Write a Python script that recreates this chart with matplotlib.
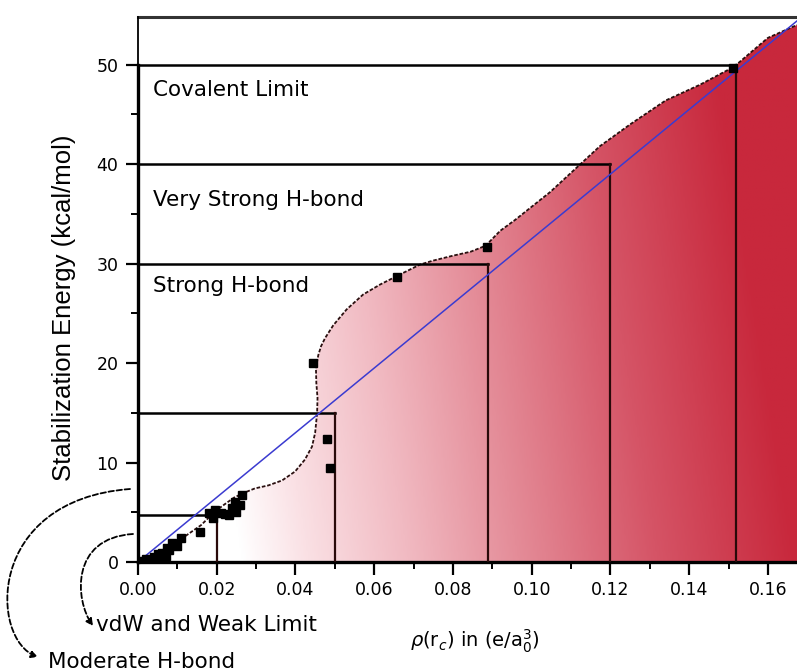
import matplotlib
matplotlib.use("Agg")
import matplotlib.pyplot as plt
import numpy as np
from matplotlib.patches import Polygon, FancyArrowPatch
from matplotlib.path import Path
from matplotlib.colors import LinearSegmentedColormap
from matplotlib.ticker import MultipleLocator

# ---- data ----
# outline of the shaded region (rho, energy)
curve_x = [0.0, 0.004, 0.008, 0.012, 0.016, 0.0196, 0.022, 0.0245, 0.0272, 0.0297,
           0.0331, 0.0366, 0.0399, 0.0424, 0.0442, 0.0450, 0.0455, 0.0456, 0.0453,
           0.0452, 0.0458, 0.0465, 0.0475, 0.0496, 0.053, 0.0572, 0.0615, 0.0665,
           0.0716, 0.0749, 0.080, 0.0845, 0.0883, 0.092, 0.0958, 0.1047, 0.111,
           0.1173, 0.125, 0.134, 0.1428, 0.1514, 0.160, 0.1674]
curve_y = [0.0, 0.7, 1.6, 2.6, 3.7, 5.1, 5.8, 6.5, 7.0, 7.4,
           7.7, 8.2, 9.1, 10.3, 11.6, 13.0, 15.0, 16.5, 18.0,
           19.5, 20.8, 21.7, 22.5, 23.8, 25.4, 26.9, 27.9, 28.9,
           29.9, 30.3, 30.8, 31.2, 31.8, 33.3, 34.4, 37.2, 39.5,
           41.8, 44.0, 46.4, 48.0, 49.8, 52.7, 54.0]

# data points
pts_x = [0.001, 0.002, 0.003, 0.004, 0.005, 0.005, 0.006, 0.007, 0.0074, 0.008,
         0.0086, 0.010, 0.011, 0.0157, 0.018, 0.0196, 0.019, 0.021, 0.022, 0.023,
         0.0238, 0.025, 0.0246, 0.026, 0.0264, 0.0445, 0.048, 0.0488, 0.0658,
         0.0886, 0.1511]
pts_y = [0.1, 0.3, 0.2, 0.5, 0.3, 0.8, 0.9, 0.6, 1.4, 1.2,
         1.9, 1.6, 2.4, 3.0, 4.9, 5.2, 4.4, 4.9, 4.8, 4.7,
         5.4, 5.0, 6.0, 5.7, 6.7, 20.0, 12.4, 9.5, 28.7,
         31.7, 49.7]

# limits of the bond classes: (energy, rho)
limit_e = [4.7, 15, 30, 40, 50]
limit_rho = [0.020, 0.050, 0.089, 0.120, 0.152]

region_labels = ["Covalent Limit", "Very Strong H-bond", "Strong H-bond"]
region_label_y = [47.5, 36.4, 27.8]

fit_slope = 325.0
xmax, ymax = 0.1674, 54.8

W, H = 797, 671
fig = plt.figure(figsize=(W / 100, H / 100), dpi=100)
ax = fig.add_axes([138 / W, 1 - 562 / H, (W - 138) / W, (562 - 17) / H])
ax.set_xlim(0, xmax)
ax.set_ylim(0, ymax)

# gradient fill under the curve
cmap = LinearSegmentedColormap.from_list(
    "pinkred", [(0, "#ffffff"), (0.12, "#fae0e4"), (0.3, "#f1bac2"),
                (0.5, "#e48c98"), (0.75, "#d55466"), (1.0, "#c8283c")])
gx = np.linspace(0, xmax, 400)
gy = np.linspace(0, ymax, 100)
GX, GY = np.meshgrid(gx, gy)
t = np.clip((GX - 0.026 + 0.0004 * GY) / (xmax - 0.026), 0, 1)
poly = Polygon(list(zip(curve_x, curve_y)) + [(xmax, 0), (0, 0)],
               closed=True, facecolor="none", edgecolor="none")
ax.add_patch(poly)
im = ax.imshow(t, extent=[0, xmax, 0, ymax], origin="lower", aspect="auto",
               cmap=cmap, vmin=0, vmax=1, zorder=1)
im.set_clip_path(poly)

ax.plot(curve_x, curve_y, color="#2a1010", lw=1.3, ls=(0, (2, 1)), zorder=3)

# class limits
for e, r in zip(limit_e, limit_rho):
    ax.plot([0, r], [e, e], color="black", lw=1.8, zorder=4)
    ax.plot([r, r], [0, e], color="#2a0a0a", lw=1.6, zorder=4)

# linear fit
fx = np.array([0, xmax])
ax.plot(fx, fit_slope * fx, color="#3b3bd0", lw=1.1, zorder=5)

ax.plot(pts_x, pts_y, "s", color="black", ms=5.5, zorder=6)

for lab, y in zip(region_labels, region_label_y):
    ax.text(0.0038, y, lab, fontsize=15.5, va="center", ha="left", zorder=7)

# axes styling
ax.spines["right"].set_visible(False)
ax.spines["top"].set_linewidth(2.2)
ax.spines["top"].set_color("#333333")
ax.spines["left"].set_linewidth(2.4)
ax.spines["left"].set_bounds(0, 50)
ax.spines["bottom"].set_linewidth(2.4)
ax.plot([0, 0], [50, ymax], color="black", lw=1.3, clip_on=False, zorder=8)

ax.xaxis.set_minor_locator(MultipleLocator(0.01))
ax.yaxis.set_minor_locator(MultipleLocator(5))
ax.set_xticks(np.arange(0, 0.161, 0.02))
ax.set_xticklabels(["%.2f" % v for v in np.arange(0, 0.161, 0.02)])
ax.set_yticks(np.arange(0, 51, 10))
ax.tick_params(which="major", direction="out", length=9, width=1.6, labelsize=12.5, pad=5)
ax.tick_params(which="minor", direction="out", length=5, width=1.4)

ax.set_ylabel("Stabilization Energy (kcal/mol)", fontsize=18.5, family="Liberation Sans")
ax.yaxis.set_label_coords(-0.094, 0.466)
fig.text(475 / W, 1 - 641 / H, r"$\rho$(r$_c$) in (e/a$_0^3$)", fontsize=14,
         ha="center", va="center")

# curved arrows and their labels (figure pixel coordinates)
def pix(x, y):
    return (x / W, 1 - y / H)

for pts, lab, lx, ly in [
        ([(130, 489), (-15, 500), (-10, 640), (38, 657)], "Moderate H-bond", 48, 662),
        ([(133, 534), (70, 538), (75, 600), (93, 626)], "vdW and Weak Limit", 96, 625)]:
    path = Path([pix(*p) for p in pts],
                [Path.MOVETO, Path.CURVE4, Path.CURVE4, Path.CURVE4])
    arr = FancyArrowPatch(path=path, arrowstyle="-|>", mutation_scale=10,
                          color="black", lw=1.3, ls=(0, (3, 1.5)),
                          transform=fig.transFigure)
    fig.patches.append(arr)
    fig.text(lx / W, 1 - ly / H, lab, fontsize=15.5, ha="left", va="center")

fig.savefig("out.png", dpi=100)
